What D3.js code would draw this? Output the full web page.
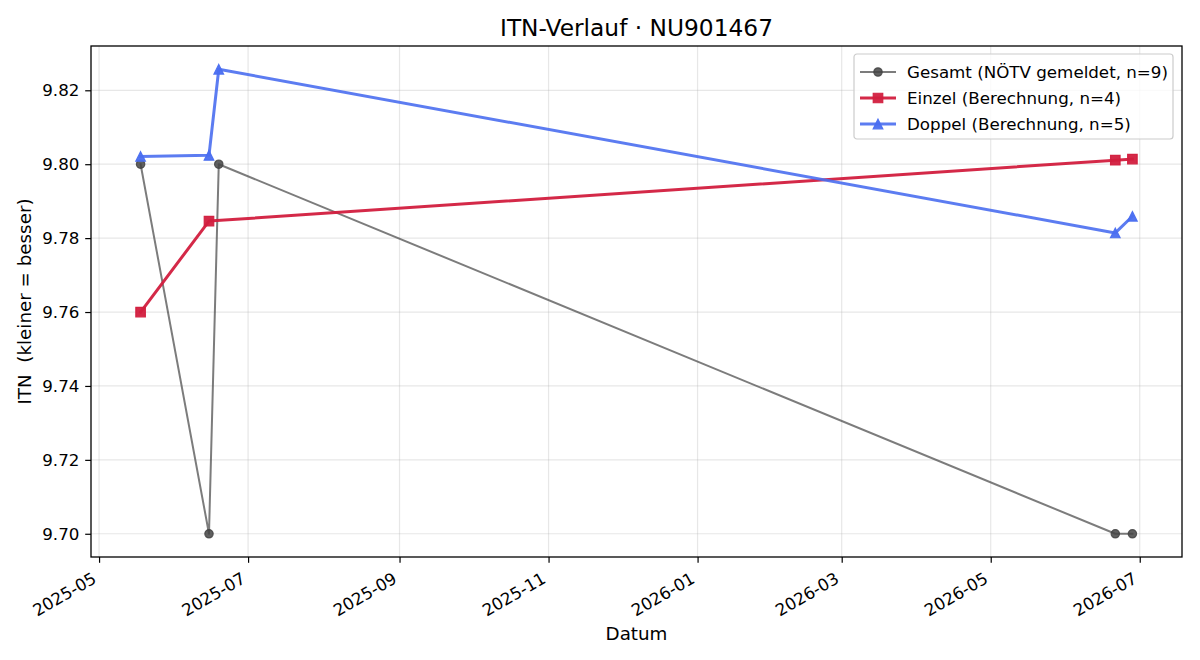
<!DOCTYPE html>
<html><head><meta charset="utf-8">
<script src="https://cdn.jsdelivr.net/npm/d3@7"></script>
<style>body{margin:0;background:#fff} text{font-family:"DejaVu Sans" !important}</style>
</head><body><svg id="c" width="1200" height="660"></svg>
<script>
const gesamtDates = ["2025-05-18","2025-06-15","2025-06-19","2026-06-21","2026-06-28"];
const gesamtValues = [9.80, 9.70, 9.80, 9.70, 9.70];
const einzelDates = ["2025-05-18","2025-06-15","2026-06-21","2026-06-28"];
const einzelValues = [9.760, 9.7846, 9.8011, 9.8014];
const doppelDates = ["2025-05-18","2025-06-15","2025-06-19","2026-06-21","2026-06-28"];
const doppelValues = [9.8021, 9.8024, 9.8257, 9.7814, 9.7859];
const xTickLabels = ["2025-05","2025-07","2025-09","2025-11","2026-01","2026-03","2026-05","2026-07"];
const yTickValues = [9.70, 9.72, 9.74, 9.76, 9.78, 9.80, 9.82];
const seriesNames = ["Gesamt (NÖTV gemeldet, n=9)","Einzel (Berechnung, n=4)","Doppel (Berechnung, n=5)"];

const FF = "DejaVu Sans";
const parse = d3.utcParse("%Y-%m-%d");
const parseM = d3.utcParse("%Y-%m");
const series = [
  {name: seriesNames[0], dates: gesamtDates, vals: gesamtValues, color:"#444444", lw:2.0, lop:0.7, mop:0.85, sym:"circle"},
  {name: seriesNames[1], dates: einzelDates, vals: einzelValues, color:"#d21e3e", lw:3.0, lop:0.95, mop:0.95, sym:"square"},
  {name: seriesNames[2], dates: doppelDates, vals: doppelValues, color:"#4a6ef0", lw:3.0, lop:0.9, mop:0.95, sym:"triangle"}
].map(s => ({...s, pts: s.dates.map((d,i)=>({x:parse(d), y:s.vals[i]}))}));

const L=91, R=1182, T=46, B=557;
const svg = d3.select("#c");
const allX = series.flatMap(s=>s.pts.map(p=>p.x));
const allY = series.flatMap(s=>s.pts.map(p=>p.y));
const [x0,x1] = d3.extent(allX), [y0,y1] = d3.extent(allY);
const xm = (x1-x0)*0.05, ym=(y1-y0)*0.05;
const x = d3.scaleUtc().domain([new Date(+x0-xm), new Date(+x1+xm)]).range([L,R]);
const y = d3.scaleLinear().domain([y0-ym, y1+ym]).range([B,T]);
const xTicks = xTickLabels.map(parseM);

// grid
const g = svg.append("g");
g.selectAll(".gx").data(xTicks).join("line").attr("x1",d=>x(d)).attr("x2",d=>x(d)).attr("y1",T).attr("y2",B)
  .attr("stroke","#b0b0b0").attr("stroke-opacity",0.3).attr("stroke-width",1.2);
g.selectAll(".gy").data(yTickValues).join("line").attr("y1",d=>y(d)).attr("y2",d=>y(d)).attr("x1",L).attr("x2",R)
  .attr("stroke","#b0b0b0").attr("stroke-opacity",0.3).attr("stroke-width",1.2);

// lines and markers
const line = d3.line().x(d=>x(d.x)).y(d=>y(d.y));
series.forEach(s=>{
  svg.append("path").attr("d",line(s.pts)).attr("fill","none").attr("stroke",s.color)
    .attr("stroke-width",s.lw).attr("stroke-opacity",s.lop).attr("stroke-linejoin","round").attr("stroke-linecap","square");
});
function symPath(s){
  if (s.sym==="circle") return d3.symbol(d3.symbolCircle, Math.PI*4.2*4.2)();
  if (s.sym==="square") return d3.symbol(d3.symbolSquare, 9.5*9.5)();
  const r=4.8; return `M0,${-r}L${r},${r}L${-r},${r}Z`;
}
series.forEach(s=>{
  svg.append("g").selectAll("path").data(s.pts).join("path").attr("d",symPath(s))
    .attr("transform",d=>`translate(${x(d.x)},${y(d.y)})`)
    .attr("fill",s.color).attr("fill-opacity",s.mop).attr("stroke",s.color).attr("stroke-opacity",s.mop).attr("stroke-width",1.2).attr("stroke-linejoin","miter");
});

// axes
const xa = svg.append("g").attr("transform",`translate(0,${B})`)
  .call(d3.axisBottom(x).tickValues(xTicks).tickFormat(d3.utcFormat("%Y-%m")).tickSizeOuter(0).tickSize(5.8).tickPadding(0));
xa.attr("font-family",FF).attr("font-size",16.7);
xa.select(".domain").remove();
xa.selectAll("line").attr("stroke","#000").attr("stroke-width",1.2);
xa.selectAll("text").attr("font-family",FF).attr("font-size",16.7).attr("fill","#000")
  .attr("text-anchor","end").attr("dy",0).attr("y",0)
  .attr("transform","translate(-2,25) rotate(-30)");
const ya = svg.append("g").attr("transform",`translate(${L},0)`)
  .call(d3.axisLeft(y).tickValues(yTickValues).tickFormat(d3.format(".2f")).tickSizeOuter(0).tickSize(5.8).tickPadding(5.8));
ya.attr("font-family",FF).attr("font-size",16.7);
ya.select(".domain").remove();
ya.selectAll("line").attr("stroke","#000").attr("stroke-width",1.2);
ya.selectAll("text").attr("font-family",FF).attr("font-size",16.7).attr("fill","#000");
svg.append("rect").attr("x",L).attr("y",T).attr("width",R-L).attr("height",B-T).attr("fill","none").attr("stroke","#000").attr("stroke-width",1.3);

// titles
svg.append("text").attr("font-family",FF).attr("x",(L+R)/2).attr("y",36).attr("text-anchor","middle").attr("font-size",23.3).text("ITN-Verlauf · NU901467");
svg.append("text").attr("font-family",FF).attr("x",(L+R)/2).attr("y",640).attr("text-anchor","middle").attr("font-size",18.3).text("Datum");
svg.append("text").attr("font-family",FF).attr("transform",`translate(31,${(T+B)/2}) rotate(-90)`).attr("text-anchor","middle").attr("font-size",18.3).attr("xml:space","preserve").style("white-space","pre").text("ITN  (kleiner = besser)");

// legend
const lg = svg.append("g").attr("transform","translate(854,54)");
lg.append("rect").attr("width",319).attr("height",85).attr("rx",3).attr("fill","#fff").attr("fill-opacity",0.8).attr("stroke","#cccccc").attr("stroke-width",1.2);
series.forEach((s,i)=>{
  const yy = 18 + i*26;
  lg.append("line").attr("x1",6).attr("x2",42).attr("y1",yy).attr("y2",yy).attr("stroke",s.color).attr("stroke-width",s.lw).attr("stroke-opacity",s.lop);
  lg.append("path").attr("d",symPath(s)).attr("transform",`translate(24,${yy})`).attr("fill",s.color).attr("fill-opacity",s.mop).attr("stroke",s.color).attr("stroke-opacity",s.mop).attr("stroke-width",1.2);
  lg.append("text").attr("font-family",FF).attr("x",53).attr("y",yy).attr("dy","0.36em").attr("font-size",16.7).text(s.name);
});
</script></body></html>
